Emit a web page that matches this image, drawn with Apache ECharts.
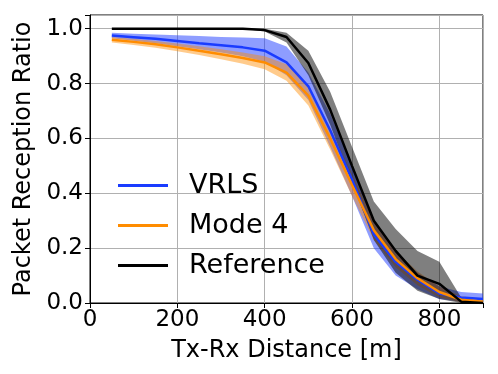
<!DOCTYPE html>
<html>
<head>
<meta charset="utf-8">
<script src="https://cdn.jsdelivr.net/npm/echarts@6/dist/echarts.min.js"></script>
<style>
  html, body { margin: 0; padding: 0; background: #fff; }
  #chart { width: 498px; height: 374px; }
</style>
</head>
<body>
<div id="chart"></div>
<script>
  // distances [m]
  const dist = [50, 100, 150, 200, 250, 300, 350, 400, 450, 500, 550, 600, 650, 700, 750, 800, 850, 900];

  const vrls = [0.975, 0.969, 0.963, 0.955, 0.947, 0.94, 0.932, 0.92, 0.877, 0.79, 0.63, 0.45, 0.25, 0.15, 0.085, 0.035, 0.02, 0.015];
  const vrlsHi = [0.985, 0.982, 0.979, 0.976, 0.973, 0.97, 0.968, 0.965, 0.935, 0.84, 0.69, 0.5, 0.3, 0.19, 0.11, 0.06, 0.04, 0.035];
  const vrlsLo = [0.965, 0.956, 0.947, 0.936, 0.925, 0.913, 0.9, 0.88, 0.83, 0.74, 0.57, 0.39, 0.2, 0.1, 0.05, 0.015, 0.005, 0.005];

  const mode4 = [0.96, 0.952, 0.943, 0.932, 0.92, 0.907, 0.893, 0.877, 0.84, 0.756, 0.6, 0.43, 0.265, 0.16, 0.09, 0.04, 0.012, 0.005];
  const mode4Hi = [0.97, 0.963, 0.955, 0.946, 0.936, 0.925, 0.913, 0.9, 0.87, 0.79, 0.64, 0.47, 0.3, 0.19, 0.115, 0.06, 0.025, 0.015];
  const mode4Lo = [0.95, 0.941, 0.931, 0.918, 0.904, 0.889, 0.872, 0.852, 0.81, 0.72, 0.56, 0.39, 0.23, 0.13, 0.065, 0.02, 0.003, 0.0];

  const ref = [1.0, 1.0, 1.0, 1.0, 1.0, 1.0, 1.0, 0.995, 0.97, 0.875, 0.705, 0.5, 0.3, 0.19, 0.1, 0.07, 0.005, 0.0];
  const refHi = [1.0, 1.0, 1.0, 1.0, 1.0, 1.0, 1.0, 1.0, 0.985, 0.92, 0.77, 0.57, 0.37, 0.27, 0.19, 0.15, 0.02, 0.005];
  const refLo = [1.0, 1.0, 1.0, 1.0, 1.0, 1.0, 1.0, 0.99, 0.95, 0.83, 0.65, 0.44, 0.23, 0.11, 0.045, 0.015, 0.0, 0.0];

  const yTicks = [0, 0.2, 0.4, 0.6, 0.8, 1.0];

  const font = 'DejaVu Sans';

  function pairs(ys) {
    return dist.map((x, i) => [x, ys[i]]);
  }

  // shaded min/max band drawn as one polygon through the axis scales
  function bandSeries(name, lo, hi, color) {
    return {
      name: name + '_band',
      type: 'custom',
      silent: true,
      data: [[dist[0], lo[0]]],
      renderItem: function (params, api) {
        const pts = [];
        for (let i = 0; i < dist.length; i++) pts.push(api.coord([dist[i], hi[i]]));
        for (let i = dist.length - 1; i >= 0; i--) pts.push(api.coord([dist[i], lo[i]]));
        return {
          type: 'polygon',
          shape: { points: pts },
          style: { fill: color },
        };
      },
      clip: true,
      z: 1,
    };
  }
  function lineSeries(name, ys, color) {
    return {
      name: name,
      type: 'line',
      data: pairs(ys),
      symbol: 'none',
      lineStyle: { color: color, width: 2.5 },
      itemStyle: { color: color },
      z: 5,
    };
  }

  const option = {
    animation: false,
    grid: {
      left: 90,
      right: 15,
      top: 15,
      bottom: 71,
      show: true,
      borderColor: '#000',
      borderWidth: 1,
    },
    legend: {
      data: ['VRLS', 'Mode 4', 'Reference'],
      orient: 'vertical',
      left: 113,
      top: 167,
      icon: 'rect',
      itemWidth: 50,
      itemHeight: 3,
      itemGap: 13,
      textStyle: { fontFamily: font, fontSize: 27, color: '#000', padding: [0, 0, 0, 16] },
    },
    xAxis: {
      type: 'value',
      min: 0,
      max: 900,
      interval: 200,
      name: 'Tx-Rx Distance [m]',
      nameLocation: 'middle',
      nameGap: 36,
      nameTextStyle: { fontFamily: font, fontSize: 24, color: '#000' },
      axisLine: { lineStyle: { color: '#000' } },
      axisTick: { lineStyle: { color: '#000' }, length: 5 },
      axisLabel: {
        fontFamily: font,
        fontSize: 23,
        color: '#000',
        margin: 6,
        formatter: (v) => (v > 850 ? '' : String(v)),
      },
      splitLine: { show: true, lineStyle: { color: '#b0b0b0', width: 1 } },
    },
    yAxis: {
      type: 'value',
      min: 0,
      max: 1.05,
      interval: 0.2,
      name: 'Packet Reception Ratio',
      nameLocation: 'middle',
      nameGap: 54,
      nameTextStyle: { fontFamily: font, fontSize: 24, color: '#000' },
      axisLine: { lineStyle: { color: '#000' } },
      axisTick: { lineStyle: { color: '#000' }, length: 5 },
      axisLabel: {
        fontFamily: font,
        fontSize: 23,
        color: '#000',
        margin: 7,
        formatter: (v) => (yTicks.some((t) => Math.abs(t - v) < 1e-6) ? v.toFixed(1) : ''),
      },
      splitLine: { show: true, lineStyle: { color: '#b0b0b0', width: 1 } },
    },
    series: [
      bandSeries('vrls', vrlsLo, vrlsHi, 'rgba(30,60,255,0.5)'),
      bandSeries('mode4', mode4Lo, mode4Hi, 'rgba(255,140,0,0.45)'),
      bandSeries('ref', refLo, refHi, 'rgba(0,0,0,0.5)'),
      lineSeries('VRLS', vrls, '#1a3cff'),
      lineSeries('Mode 4', mode4, '#ff8c00'),
      lineSeries('Reference', ref, '#000'),
    ],
  };

  const chart = echarts.init(document.getElementById('chart'));
  chart.setOption(option);
</script>
</body>
</html>
